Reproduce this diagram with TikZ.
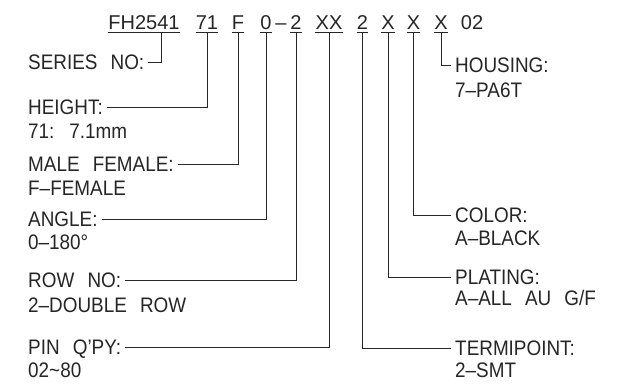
\documentclass[tikz,border=0pt]{standalone}
\usepackage{fontspec}
\setmainfont{Liberation Sans}
\newfontfamily\lblfont{Liberation Sans}[FakeStretch=0.9, WordSpace=2.5, Ligatures=TeX]
\usepackage{tikz}
\definecolor{ink}{HTML}{262626}
\tikzset{
  seg/.style={anchor=base, inner xsep=0pt, inner ysep=3pt, text depth=0pt, text=ink, font=\fontsize{20}{22}\selectfont},
  ttl/.style={anchor=base west, inner xsep=4pt, inner ysep=0pt, text height=15pt, text depth=0pt, text=ink, font=\lblfont\fontsize{21}{24}\selectfont},
  val/.style={ttl},
  ul/.style={draw=ink, line width=0.9pt},
  lead/.style={draw=ink, line width=0.9pt}
}
\begin{document}
\begin{tikzpicture}[x=1pt,y=-1pt]
\useasboundingbox[fill=white] (0,0) rectangle (630,390);
% code row
\node[seg] (fh) at (144,29.5) {FH2541};
\node[seg] (ht) at (207,29.5) {71};
\node[seg] (mf) at (238,29.5) {F};
\node[seg] (an) at (266,29.5) {0};
\node[seg] (dash) at (281,29.5) {–};
\node[seg] (rw) at (296,29.5) {2};
\node[seg] (pn) at (329,29.5) {XX};
\node[seg] (tp) at (362.5,29.5) {2};
\node[seg] (pl) at (388,29.5) {X};
\node[seg] (co) at (413.5,29.5) {X};
\node[seg] (hs) at (441,29.5) {X};
\node[seg] (nn) at (472,29.5) {02};
\foreach \s in {fh,ht,mf,an,rw,pn,tp,pl,co,hs}
  \draw[ul] (\s.south west) -- (\s.south east);
% left labels
\node[ttl] (serT) at (24,69.5) {SERIES NO:};
\node[ttl] (htT) at (24,114.5) {HEIGHT:};
\node[val] (htV) at (24,138.5) {71: 7.1mm};
\node[ttl] (mfT) at (24,172) {MALE FEMALE:};
\node[val] (mfV) at (24,196) {F–FEMALE};
\node[ttl] (anT) at (24,227) {ANGLE:};
\node[val] (anV) at (24,249.5) {0–180°};
\node[ttl] (rwT) at (24,288) {ROW NO:};
\node[val] (rwV) at (24,312.5) {2–DOUBLE ROW};
\node[ttl] (pnT) at (24,355) {PIN Q'PY:};
\node[val] (pnV) at (24,377.5) {02\textasciitilde 80};
% right labels
\node[ttl] (hsT) at (451,73) {HOUSING:};
\node[val] (hsV) at (451,97.5) {7–PA6T};
\node[ttl] (coT) at (451,223) {COLOR:};
\node[val] (coV) at (451,245.5) {A–BLACK};
\node[ttl] (plT) at (451,284.5) {PLATING:};
\node[val] (plV) at (451,305.5) {A–ALL AU G/F};
\node[ttl] (tpT) at (451,355.5) {TERMIPOINT:};
\node[val] (tpV) at (451,377.5) {2–SMT};
% leaders
\draw[lead] ([xshift=17pt]fh.south) |- (serT.east);
\draw[lead] (ht.south) |- (htT.east);
\draw[lead] (mf.south) |- (mfT.east);
\draw[lead] (an.south) |- (anT.east);
\draw[lead] (rw.south) |- (rwT.east);
\draw[lead] (pn.south) |- (pnT.east);
\draw[lead] (tp.south) |- (tpT.west);
\draw[lead] (pl.south) |- (plT.west);
\draw[lead] (co.south) |- (coT.west);
\draw[lead] (hs.south) |- (hsT.west);
\end{tikzpicture}
\end{document}
